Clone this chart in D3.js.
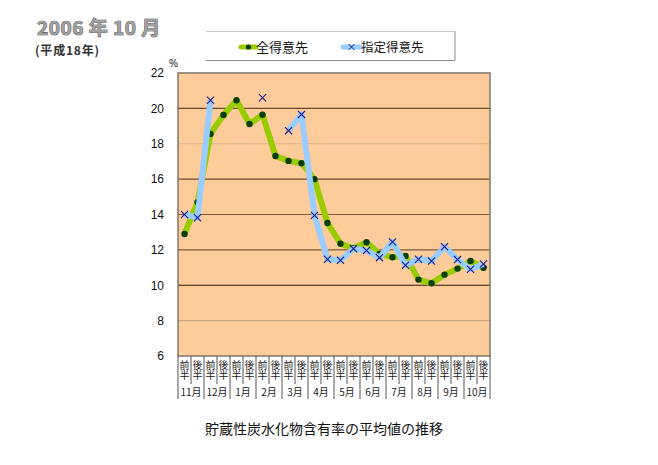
<!DOCTYPE html>
<html><head><meta charset="utf-8">
<script src="https://cdn.jsdelivr.net/npm/d3@7"></script>
<style>body{margin:0;background:#fff}svg{display:block}</style>
</head><body>
<svg id="c" width="658" height="465"></svg>
<script>
const months = ["11月","12月","1月","2月","3月","4月","5月","6月","7月","8月","9月","10月"];
const halves = ["前半","後半"];
const allClients = [12.9,14.7,18.55,19.63,20.46,19.12,19.64,17.31,17.03,16.9,16.0,13.52,12.35,12.09,12.43,11.77,11.58,11.66,10.32,10.11,10.6,10.94,11.37,10.99];
const selClients = [14.0,13.82,20.46,null,null,null,20.6,null,18.74,19.66,13.95,11.47,11.41,12.07,11.96,11.56,12.45,11.13,11.47,11.37,12.18,11.45,10.9,11.2];
const yTicks = [6,8,10,12,14,16,18,20,22];
const seriesNames = ["全得意先","指定得意先"];

const categories = [];
months.forEach(m => halves.forEach(h => categories.push(m + h)));

const svg = d3.select("#c");
const L = 178, R = 490, T = 73, B = 356;
const x = d3.scaleBand().domain(d3.range(categories.length)).range([L, R]).padding(0);
const y = d3.scaleLinear().domain([6, 22]).range([B, T]);
const cx = i => x(i) + x.bandwidth() / 2;
const jp = "'Noto Sans CJK JP','Noto Sans',sans-serif";
const lat = "'Liberation Sans',Arial,sans-serif";

// title
svg.append("text").attr("x", 37).attr("y", 35).attr("font-family", jp).attr("font-size", 19).attr("font-weight", "bold")
  .attr("fill", "#a0a0a0").attr("stroke", "#222").attr("stroke-width", 0.7).attr("paint-order", "stroke")
  .attr("letter-spacing", 0.5).text("2006 年 10 月");
svg.append("text").attr("x", 35).attr("y", 54.5).attr("font-family", jp).attr("font-size", 12).attr("font-weight", "bold")
  .attr("fill", "#333").attr("letter-spacing", 0.8).text("(平成18年)");

// plot bg
svg.append("rect").attr("x", L).attr("y", T).attr("width", R - L).attr("height", B - T).attr("fill", "#FECC9A");

// gridlines
const gridCol = {8:"#c9a27d",10:"#2a1a0a",12:"#7a5a3c",14:"#7a5a3c",16:"#6a4a2c",18:"#dcb48e",20:"#6a4a2c"};
yTicks.filter(v => v > 6 && v < 22).forEach(v => {
  svg.append("line").attr("x1", L).attr("x2", R).attr("y1", y(v)).attr("y2", y(v))
    .attr("stroke", gridCol[v]).attr("stroke-width", 1.2);
});
svg.append("rect").attr("x", L).attr("y", T).attr("width", R - L).attr("height", B - T)
  .attr("fill", "none").attr("stroke", "#807468").attr("stroke-width", 1.5);

// y axis labels
const yAxis = d3.axisLeft(y).tickValues(yTicks).tickSize(0).tickPadding(14);
const ga = svg.append("g").attr("transform", `translate(${L},0)`).call(yAxis);
ga.select(".domain").remove();
ga.selectAll("text").attr("font-family", lat).attr("font-size", 12).attr("fill", "#111");
svg.append("text").attr("x", 169).attr("y", 67).attr("font-family", lat).attr("font-size", 10).attr("fill", "#111").text("%");

// x category axis
const xg = svg.append("g");
d3.range(categories.length + 1).forEach(i => {
  const xx = i < categories.length ? x(i) : R;
  const monthEdge = i % 2 === 0;
  xg.append("line").attr("x1", xx).attr("x2", xx).attr("y1", B).attr("y2", monthEdge ? 399 : 384)
    .attr("stroke", "#555").attr("stroke-width", 1);
});
categories.forEach((c, i) => {
  xg.append("text").attr("x", cx(i)).attr("y", 370).attr("text-anchor", "middle")
    .style("writing-mode", "vertical-rl").attr("dominant-baseline", "central").attr("font-family", jp)
    .attr("font-size", 10).attr("fill", "#222").text(halves[i % 2]);
});
months.forEach((m, j) => {
  xg.append("text").attr("x", x(2 * j) + x.bandwidth()).attr("y", 396).attr("text-anchor", "middle")
    .attr("font-family", jp).attr("font-size", 10).attr("fill", "#222").text(m);
});

// series
const line = d3.line().defined(d => d.v != null).x(d => cx(d.i)).y(d => y(d.v));
const gData = allClients.map((v, i) => ({i, v}));
const bData = selClients.map((v, i) => ({i, v}));
svg.append("path").datum(gData).attr("d", line).attr("fill", "none").attr("stroke", "#99CC00")
  .attr("stroke-width", 6).attr("stroke-linejoin", "round");
svg.selectAll(".gd").data(gData).enter().append("circle").attr("cx", d => cx(d.i)).attr("cy", d => y(d.v))
  .attr("r", 3.2).attr("fill", "#0b3d0b");
svg.append("path").datum(bData).attr("d", line).attr("fill", "none").attr("stroke", "#99CCFF")
  .attr("stroke-width", 6).attr("stroke-linejoin", "round");
const s = 3.6;
svg.selectAll(".bx").data(bData.filter(d => d.v != null)).enter().append("path")
  .attr("d", d => `M${cx(d.i)-s},${y(d.v)-s}L${cx(d.i)+s},${y(d.v)+s}M${cx(d.i)-s},${y(d.v)+s}L${cx(d.i)+s},${y(d.v)-s}`)
  .attr("stroke", "#1a1a8a").attr("stroke-width", 1.1).attr("fill", "none");

// legend
const lg = svg.append("g");
lg.append("line").attr("x1", 206).attr("x2", 455).attr("y1", 31.5).attr("y2", 31.5).attr("stroke", "#ccc");
lg.append("line").attr("x1", 206).attr("x2", 455).attr("y1", 60.5).attr("y2", 60.5).attr("stroke", "#888");
lg.append("line").attr("x1", 455).attr("x2", 455).attr("y1", 31.5).attr("y2", 60.5).attr("stroke", "#888");
lg.append("line").attr("x1", 241).attr("x2", 256).attr("y1", 47).attr("y2", 47).attr("stroke", "#99CC00").attr("stroke-width", 5).attr("stroke-linecap", "round");
lg.append("circle").attr("cx", 248.5).attr("cy", 47).attr("r", 2.6).attr("fill", "#0b3d0b");
lg.append("text").attr("x", 256).attr("y", 51.5).attr("font-family", jp).attr("font-size", 13).attr("fill", "#111").text(seriesNames[0]);
lg.append("line").attr("x1", 343).attr("x2", 360).attr("y1", 47).attr("y2", 47).attr("stroke", "#99CCFF").attr("stroke-width", 5).attr("stroke-linecap", "round");
lg.append("path").attr("d", "M348.5,44L354.5,50M348.5,50L354.5,44").attr("stroke", "#1a1a8a").attr("stroke-width", 1);
lg.append("text").attr("x", 361).attr("y", 51.5).attr("font-family", jp).attr("font-size", 12.5).attr("fill", "#111").text(seriesNames[1]);

// caption
svg.append("text").attr("x", 324).attr("y", 434).attr("text-anchor", "middle").attr("font-family", jp)
  .attr("font-size", 14).attr("fill", "#111").text("貯蔵性炭水化物含有率の平均値の推移");
</script>
</body></html>
